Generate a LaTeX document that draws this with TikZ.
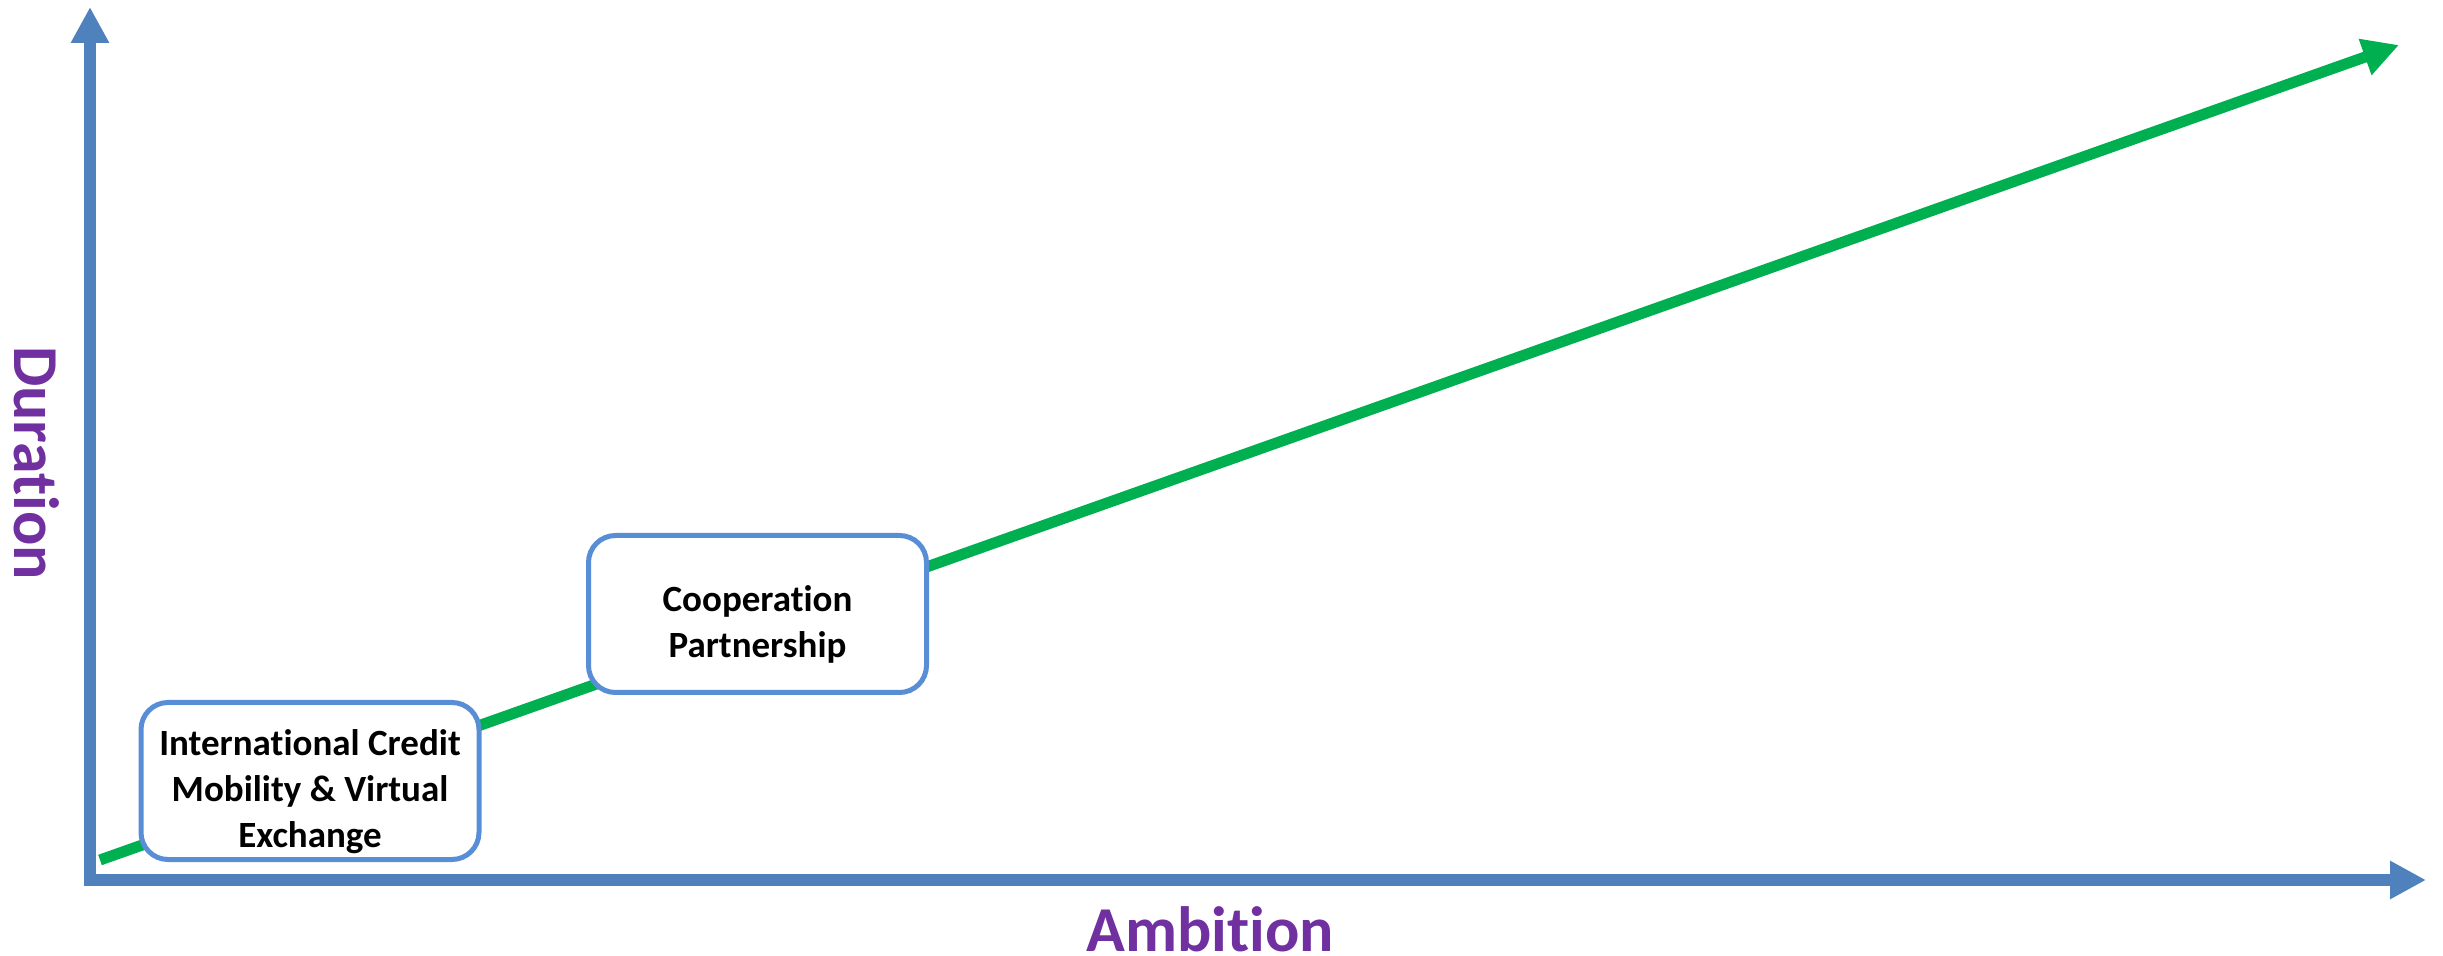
\documentclass[tikz,border=0pt]{standalone}
\usepackage{fontspec}
\setmainfont{Carlito}[Ligatures={NoCommon,NoContextual}]
\usetikzlibrary{arrows.meta,calc}
\definecolor{axisblue}{RGB}{79,129,189}
\definecolor{boxblue}{RGB}{88,142,213}
\definecolor{arrowgreen}{RGB}{0,176,80}
\definecolor{labelpurple}{RGB}{112,48,160}
\tikzset{
  axisline/.style={draw=axisblue, line width=6pt,
    {Triangle[length=18pt,width=18pt]}-{Triangle[length=18pt,width=18pt]}},
  growline/.style={draw=arrowgreen, line width=5.5pt,
    -{Triangle[length=18pt,width=18pt]}},
  stagebox/.style={draw=boxblue, fill=white, line width=2.5pt,
    rounded corners=13.5pt, minimum width=169pt, minimum height=78.5pt, inner sep=0pt},
  stagetext/.style={align=center, inner sep=0pt,
    font=\fontsize{18.5pt}{23pt}\selectfont\bfseries},
  axislabel/.style={text=labelpurple, inner sep=0pt,
    font=\fontsize{32pt}{38pt}\selectfont\bfseries}
}
\begin{document}
\begin{tikzpicture}[x=0.5pt,y=-0.5pt]
\useasboundingbox (0,0) rectangle (2443,956);
% axes
\coordinate (ytip) at (90,7);
\coordinate (origin) at (90,880);
\coordinate (xtip) at (2426,880);
\draw[axisline] (ytip) -- (origin) -- (xtip);
% growth arrow
\coordinate (gstart) at (100,860);
\coordinate (gend) at (2399,45);
\draw[growline] (gstart) -- (gend);
% stage boxes
\node[stagebox] (b1) at (310,781) {};
\node[stagetext] (t1) at ($(b1.center)+(0,11)$) {International Credit\\Mobility \& Virtual\\Exchange};
\node[stagebox] (b2) at (757.5,614) {};
\node[stagetext] (t2) at ($(b2.center)+(0,10)$) {Cooperation\\Partnership};
% axis labels
\node[axislabel, anchor=base] (amb) at (1210,951) {Ambition};
\node[axislabel, rotate=-90, anchor=base] (dur) at (15,463) {Duration};
\end{tikzpicture}
\end{document}
